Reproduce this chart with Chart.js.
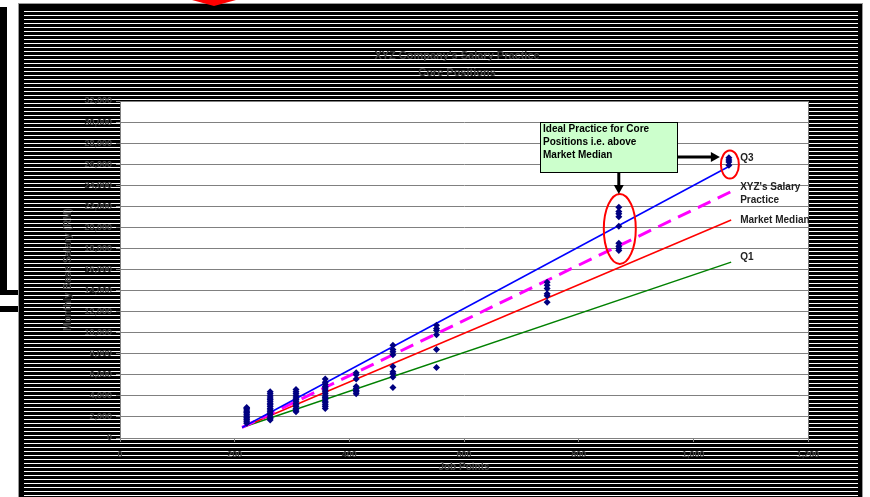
<!DOCTYPE html>
<html>
<head>
<meta charset="utf-8">
<script src="https://cdn.jsdelivr.net/npm/chart.js@4.4.1/dist/chart.umd.min.js"></script>
<style>
  html, body { margin: 0; padding: 0; background: #fff; }
  #wrap { position: relative; width: 870px; height: 497px; overflow: hidden; }
  #frame { position: absolute; left: 18px; top: 3px; width: 843px; height: 500px; background: #000; border: 1px solid #999; }
  #stripes { position: absolute; left: 24px; top: 11px; width: 834px; height: 490px;
    background: repeating-linear-gradient(to bottom, #fff 0px, #fff 1px, #000 1px, #000 4px); }
  #leftBar { position: absolute; left: 0; top: 7px; width: 7px; height: 288px; background: #000; }
  #leftFoot { position: absolute; left: 0; top: 290px; width: 18px; height: 5px; background: #000; }
  #leftLine { position: absolute; left: 0; top: 306px; width: 20px; height: 6px; background: #000; }
  #redArrow { position: absolute; left: 192px; top: 0; width: 44px; height: 6px; background: #f00; clip-path: polygon(0 0, 100% 0, 50% 100%); }
  canvas { position: absolute; left: 0; top: 0; }
</style>
</head>
<body>
<div id="wrap">
  <div id="leftBar"></div>
  <div id="leftFoot"></div>
  <div id="leftLine"></div>
  <div id="frame"></div>
  <div id="stripes"></div>
  <div id="redArrow"></div>
  <canvas id="salaryChart" width="870" height="497"></canvas>
</div>
<script>
// job points of each group of core positions
var clusterPoints = [221, 262, 307, 358, 412, 476, 552, 745, 870, 1062];
// monthly salaries of the positions in each group
var clusterSalaries = [
    [1400, 1550, 1700, 1800, 1950, 2100, 2250, 2400, 2500, 2650, 2800, 2900],
    [1700, 1850, 2000, 2200, 2350, 2500, 2650, 2800, 3000, 3150, 3300, 3500, 3650, 3800, 4000, 4200, 4400],
    [2500, 2650, 2800, 3000, 3150, 3300, 3500, 3650, 3800, 4000, 4200, 4400, 4600],
    [2800, 3000, 3150, 3350, 3500, 3700, 3850, 4000, 4200, 4400, 4550, 4750, 4900, 5100, 5300, 5600],
    [4200, 4400, 4500, 4700, 4900, 5600, 6000, 6200],
    [4800, 5800, 6100, 6300, 6800, 7900, 8200, 8400, 8800],
    [6700, 8400, 9800, 10200, 10400, 10700],
    [12900, 13500, 13700, 14200, 14500, 14800],
    [17800, 18000, 18200, 18500, 20100, 21000, 21300, 21500, 21900],
    [25900, 26200, 26400, 26600]
];

// practice lines: [start, end]
var lineJobPoints = [213, 1066];
var q3Line = [1000, 25900];
var xyzLine = [1000, 23400];
var medianLine = [1000, 20700];
var q1Line = [1000, 16700];

var titleLines = ["XYZ Company's Salary Practice", 'Core Positions'];
var yTitle = 'Monthly Base Salary (RM)';
var xTitle = 'Job Points';

var scatterData = [];
clusterPoints.forEach(function (x, i) {
    clusterSalaries[i].forEach(function (y) {
        scatterData.push({ x: x, y: y });
    });
});

function lineData(vals) {
    return lineJobPoints.map(function (x, i) { return { x: x, y: vals[i] }; });
}

var textColor = '#404040';

var decorations = {
    id: 'decorations',
    beforeDraw: function (chart) {
        var a = chart.chartArea, c = chart.ctx;
        c.save();
        c.fillStyle = '#fff';
        c.fillRect(a.left, a.top, a.right - a.left, a.bottom - a.top);
        c.restore();
    },
    afterDraw: function (chart) {
        var c = chart.ctx, a = chart.chartArea;
        var xs = chart.scales.x, ys = chart.scales.y;
        c.save();
        // plot border
        c.strokeStyle = '#808080';
        c.lineWidth = 1;
        c.strokeRect(a.left + 0.5, a.top + 0.5, a.right - a.left, a.bottom - a.top);

        // title
        c.fillStyle = textColor;
        c.font = 'bold 11px Arial, "Liberation Sans"';
        c.textAlign = 'center';
        c.textBaseline = 'middle';
        c.fillText(titleLines[0], 457, 56);
        c.fillText(titleLines[1], 457, 73);

        // red ellipses round the top groups
        function ringAround(i, rx, ry, dy) {
            var vals = clusterSalaries[i];
            var cx = xs.getPixelForValue(clusterPoints[i]);
            var cy = (ys.getPixelForValue(vals[0]) + ys.getPixelForValue(vals[vals.length - 1])) / 2 + dy;
            c.beginPath();
            c.ellipse(cx + 1, cy, rx, ry, 0, 0, Math.PI * 2);
            c.strokeStyle = '#ff0000';
            c.lineWidth = 2;
            c.stroke();
            return { x: cx, y: cy, ry: ry, rx: rx };
        }
        var ring9 = ringAround(8, 16, 35, 0);
        var ring10 = ringAround(9, 9, 14, 3);

        // callout box
        var bx = 540, by = 122, bw = 137, bh = 50;
        c.fillStyle = '#ccffcc';
        c.fillRect(bx, by, bw, bh);
        c.strokeStyle = '#000';
        c.lineWidth = 1;
        c.strokeRect(bx + 0.5, by + 0.5, bw, bh);
        c.fillStyle = '#000';
        c.font = 'bold 10px Arial, "Liberation Sans"';
        c.textAlign = 'left';
        c.fillText('Ideal Practice for Core', bx + 3, by + 7);
        c.fillText('Positions i.e. above', bx + 3, by + 20);
        c.fillText('Market Median', bx + 3, by + 33);

        // arrows
        c.strokeStyle = '#000';
        c.lineWidth = 3;
        c.beginPath();
        c.moveTo(bx + bw, 157);
        c.lineTo(ring10.x - ring10.rx - 8, 157);
        c.stroke();
        c.beginPath();
        c.moveTo(ring10.x - ring10.rx, 157);
        c.lineTo(ring10.x - ring10.rx - 9, 152);
        c.lineTo(ring10.x - ring10.rx - 9, 162);
        c.closePath();
        c.fill();
        var ax = ring9.x;
        c.beginPath();
        c.moveTo(ax, by + bh);
        c.lineTo(ax, ring9.y - ring9.ry - 8);
        c.stroke();
        c.beginPath();
        c.moveTo(ax, ring9.y - ring9.ry);
        c.lineTo(ax - 5, ring9.y - ring9.ry - 9);
        c.lineTo(ax + 5, ring9.y - ring9.ry - 9);
        c.closePath();
        c.fill();

        // line labels
        c.beginPath();
        c.rect(a.left, a.top, a.right - a.left + 2, a.bottom - a.top);
        c.clip();
        c.fillStyle = '#222';
        c.font = 'bold 10px Arial, "Liberation Sans"';
        var lx = xs.getPixelForValue(lineJobPoints[1]) + 9;
        c.fillText('Q3', lx, 158);
        c.fillText("XYZ's Salary", lx, 187);
        c.fillText('Practice', lx, 200);
        c.fillText('Market Median', lx, 220);
        c.fillText('Q1', lx, 257);
        c.restore();
    }
};

var ctx = document.getElementById('salaryChart').getContext('2d');
var salaryChart = new Chart(ctx, {
    type: 'scatter',
    data: {
        datasets: [{
            label: 'Core Positions',
            data: scatterData,
            pointStyle: 'rectRot',
            pointRadius: 3.5,
            backgroundColor: '#000080',
            borderColor: '#000080',
            borderWidth: 0
        }, {
            label: 'Q3',
            type: 'line',
            data: lineData(q3Line),
            borderColor: '#0000ff',
            borderWidth: 1.5,
            pointRadius: 0
        }, {
            label: "XYZ's Salary Practice",
            type: 'line',
            data: lineData(xyzLine),
            borderColor: '#ff00ff',
            borderWidth: 3,
            borderDash: [14, 8],
            pointRadius: 0
        }, {
            label: 'Market Median',
            type: 'line',
            data: lineData(medianLine),
            borderColor: '#ff0000',
            borderWidth: 1.5,
            pointRadius: 0
        }, {
            label: 'Q1',
            type: 'line',
            data: lineData(q1Line),
            borderColor: '#008000',
            borderWidth: 1.5,
            pointRadius: 0
        }]
    },
    options: {
        responsive: false,
        animation: false,
        layout: {
            padding: { left: 58, right: 62, top: 101, bottom: 20 }
        },
        plugins: {
            legend: { display: false },
            tooltip: { enabled: false },
            title: { display: false }
        },
        scales: {
            x: {
                type: 'linear',
                min: 0,
                max: 1200,
                ticks: {
                    stepSize: 200,
                    padding: 7,
                    color: textColor,
                    font: { size: 9, weight: 'bold', family: 'Arial, "Liberation Sans"' }
                },
                grid: { drawOnChartArea: false, tickLength: 4, color: '#808080' },
                border: { color: '#808080' },
                title: {
                    display: true,
                    text: xTitle,
                    color: textColor,
                    font: { size: 10, weight: 'bold', family: 'Arial, "Liberation Sans"' }
                },
                afterFit: function (scale) { scale.height = 39; }
            },
            y: {
                min: 0,
                max: 32000,
                ticks: {
                    stepSize: 2000,
                    padding: 4,
                    color: textColor,
                    font: { size: 9, weight: 'bold', family: 'Arial, "Liberation Sans"' },
                    callback: function (v) { return v.toLocaleString('en-US'); }
                },
                grid: { color: '#808080', tickLength: 4 },
                border: { color: '#808080' },
                title: {
                    display: true,
                    text: yTitle,
                    color: textColor,
                    font: { size: 10, weight: 'bold', family: 'Arial, "Liberation Sans"' }
                },
                afterFit: function (scale) { scale.width = 62; }
            }
        }
    },
    plugins: [decorations]
});
</script>
</body>
</html>
